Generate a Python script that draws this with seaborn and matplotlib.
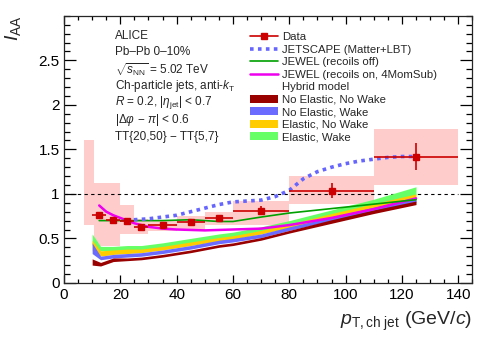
import numpy as np
import pandas as pd
import seaborn as sns
import matplotlib
matplotlib.use("Agg")
import matplotlib.pyplot as plt
from matplotlib.patches import Patch, Rectangle
from matplotlib.lines import Line2D
from matplotlib.ticker import MultipleLocator

# ALICE data points
data_x = [12.5, 17.5, 22.5, 27.5, 35, 45, 55, 70, 95, 125]
data_xerr = [2.5, 2.5, 2.5, 2.5, 5, 5, 5, 10, 15, 15]
data_y = [0.76, 0.71, 0.70, 0.63, 0.645, 0.68, 0.73, 0.81, 1.035, 1.42]
data_yerr = [0.03, 0.025, 0.025, 0.025, 0.025, 0.025, 0.035, 0.05, 0.085, 0.155]

# systematic boxes
sys_xlo = [7, 10.5, 15, 20, 25, 30, 40, 50, 60, 80, 110]
sys_xhi = [10.5, 15, 20, 25, 30, 40, 50, 60, 80, 110, 140]
sys_lo = [0.65, 0.42, 0.42, 0.55, 0.55, 0.58, 0.60, 0.65, 0.65, 0.89, 1.10]
sys_hi = [1.60, 1.12, 1.12, 0.88, 0.72, 0.71, 0.75, 0.80, 0.915, 1.20, 1.73]

# JETSCAPE
jetscape_x = [22, 25, 30, 35, 40, 45, 50, 55, 60, 65, 70, 75, 80, 85, 90, 95,
              100, 105, 110, 115, 120, 125]
jetscape_y = [0.70, 0.71, 0.72, 0.74, 0.76, 0.80, 0.84, 0.88, 0.91, 0.92, 0.93,
              0.97, 1.04, 1.17, 1.25, 1.30, 1.34, 1.37, 1.39, 1.41, 1.42, 1.42]

# JEWEL recoils off
jewel_off_x = [12.5, 17.5, 22.5, 27.5, 35, 45, 55, 60, 70, 80, 95, 110, 125]
jewel_off_y = [0.70, 0.70, 0.70, 0.70, 0.70, 0.71, 0.69, 0.69, 0.74, 0.785,
               0.835, 0.885, 0.935]

# JEWEL recoils on
jewel_on_x = [12.5, 15, 17.5, 20, 25, 30, 35, 40, 50, 60, 70, 80, 95, 110, 125]
jewel_on_y = [0.87, 0.80, 0.76, 0.73, 0.67, 0.63, 0.61, 0.60, 0.59, 0.60, 0.61,
              0.65, 0.73, 0.83, 0.95]

# Hybrid model bands
hyb_x = [10, 13, 17.5, 22.5, 27.5, 35, 45, 55, 60, 70, 80, 95, 110, 125]
nene_lo = [0.20, 0.19, 0.24, 0.25, 0.26, 0.29, 0.34, 0.40, 0.42, 0.48, 0.56, 0.67, 0.78, 0.88]
nene_hi = [0.27, 0.23, 0.28, 0.28, 0.29, 0.32, 0.37, 0.43, 0.45, 0.51, 0.59, 0.71, 0.82, 0.92]
new_lo = [0.33, 0.26, 0.28, 0.29, 0.30, 0.33, 0.38, 0.44, 0.46, 0.51, 0.59, 0.70, 0.81, 0.91]
new_hi = [0.45, 0.30, 0.32, 0.33, 0.34, 0.37, 0.42, 0.48, 0.50, 0.55, 0.63, 0.74, 0.85, 0.95]
enw_lo = [0.36, 0.30, 0.32, 0.33, 0.34, 0.37, 0.42, 0.47, 0.49, 0.55, 0.62, 0.73, 0.84, 0.94]
enw_hi = [0.48, 0.36, 0.37, 0.38, 0.38, 0.41, 0.46, 0.51, 0.53, 0.59, 0.66, 0.78, 0.89, 1.00]
ew_lo = [0.42, 0.36, 0.36, 0.37, 0.37, 0.40, 0.45, 0.50, 0.52, 0.58, 0.65, 0.77, 0.88, 0.99]
ew_hi = [0.55, 0.41, 0.41, 0.42, 0.42, 0.45, 0.50, 0.55, 0.57, 0.63, 0.70, 0.82, 0.94, 1.08]

RED = "#cc0000"
C_NENW = "#990000"
C_NEW = "#6b6bff"
C_ENW = "#ffcc00"
C_EW = "#66ff66"

sns.set_style("ticks")
plt.rcParams["font.family"] = ["Liberation Sans", "DejaVu Sans"]
plt.rcParams["mathtext.fontset"] = "custom"
plt.rcParams["mathtext.rm"] = "Liberation Sans"
plt.rcParams["mathtext.it"] = "Liberation Sans:italic"
plt.rcParams["mathtext.bf"] = "Liberation Sans:bold"

fig = plt.figure(figsize=(4.98, 3.38), dpi=100)
ax = fig.add_axes([0.1285, 0.163, 0.82, 0.79])

# systematic boxes
for xl, xh, lo, hi in zip(sys_xlo, sys_xhi, sys_lo, sys_hi):
    ax.add_patch(Rectangle((xl, lo), xh - xl, hi - lo, facecolor="#ffcccc",
                           edgecolor="none", zorder=1))

# reference line
ax.hlines(1, 0, 140, colors="black", linestyles=(0, (3, 3)), linewidth=0.8, zorder=2)

# hybrid bands
for lo, hi, c in [(ew_lo, ew_hi, C_EW), (enw_lo, enw_hi, C_ENW),
                  (new_lo, new_hi, C_NEW), (nene_lo, nene_hi, C_NENW)]:
    ax.fill_between(hyb_x, lo, hi, color=c, linewidth=0, zorder=3)

# model curves
sns.lineplot(x=jewel_on_x, y=jewel_on_y, ax=ax, color="#ee00ee", linewidth=1.8,
             zorder=4, estimator=None, sort=False)
sns.lineplot(x=jewel_off_x, y=jewel_off_y, ax=ax, color="#00a000", linewidth=1.2,
             zorder=4, estimator=None, sort=False)
sns.lineplot(x=jetscape_x, y=jetscape_y, ax=ax, color="#6666ff", linewidth=2.6,
             linestyle=(0, (1, 1.2)), zorder=4, estimator=None, sort=False)

# data
ax.errorbar(data_x, data_y, xerr=data_xerr, yerr=data_yerr, fmt="s", color=RED,
            ms=5, elinewidth=1.2, capsize=0, zorder=6)

ax.set_xlim(0, 145)
ax.set_ylim(0, 3)
ax.xaxis.set_major_locator(MultipleLocator(20))
ax.xaxis.set_minor_locator(MultipleLocator(5))
ax.yaxis.set_major_locator(MultipleLocator(0.5))
ax.yaxis.set_minor_locator(MultipleLocator(0.1))
ax.set_yticks([0, 0.5, 1, 1.5, 2, 2.5])
ax.set_yticklabels(["0", "0.5", "1", "1.5", "2", "2.5"])
ax.tick_params(which="both", direction="in", top=True, right=True, labelsize=11,
               width=0.9, colors="black")
ax.tick_params(axis="x", which="major", length=5.8, pad=4)
ax.tick_params(axis="x", which="minor", length=2.9)
ax.tick_params(axis="y", which="major", length=8.6, pad=3)
ax.tick_params(axis="y", which="minor", length=4.3)
for s in ax.spines.values():
    s.set_linewidth(0.9)

ax.set_xlabel(r"$p_{\mathrm{T,ch\ jet}}$ (GeV/$c$)", fontsize=14, loc="right", labelpad=5)
ax.set_ylabel(r"$I_{\mathrm{AA}}$", fontsize=14, loc="top")
ax.yaxis.set_label_coords(-0.1, 1.0)

info = ["ALICE", "Pb\u2013Pb 0\u201310%", r"$\sqrt{s_{\mathrm{NN}}}$ = 5.02 TeV",
        r"Ch-particle jets, anti-$k_{\mathrm{T}}$",
        r"$R$ = 0.2, $|\eta_{\mathrm{jet}}|$ < 0.7",
        r"$|\Delta\varphi\,-\,\pi|$ < 0.6", "TT{20,50} \u2212 TT{5,7}"]
for i, t in enumerate(info):
    ax.text(0.125, 0.926 - i * 0.063, t, transform=ax.transAxes, fontsize=8.5,
            va="center", ha="left")

handles = [
    Line2D([], [], color=RED, marker="s", ms=5, lw=1.2),
    Line2D([], [], color="#6666ff", lw=2.6, linestyle=(0, (1, 1.2))),
    Line2D([], [], color="#00a000", lw=1.2),
    Line2D([], [], color="#ee00ee", lw=1.8),
    Patch(facecolor="none", edgecolor="none"),
    Patch(facecolor=C_NENW, edgecolor="none"),
    Patch(facecolor=C_NEW, edgecolor="none"),
    Patch(facecolor=C_ENW, edgecolor="none"),
    Patch(facecolor=C_EW, edgecolor="none"),
]
labels = ["Data", "JETSCAPE (Matter+LBT)", "JEWEL (recoils off)",
          "JEWEL (recoils on, 4MomSub)", "Hybrid model", "No Elastic, No Wake",
          "No Elastic, Wake", "Elastic, No Wake", "Elastic, Wake"]
ax.legend(handles, labels, loc="upper left", bbox_to_anchor=(0.435, 0.968),
          frameon=False, fontsize=8.2, labelspacing=0.22, handlelength=2.5,
          handletextpad=0.35, borderpad=0.2)

fig.savefig("out.png", dpi=100)
